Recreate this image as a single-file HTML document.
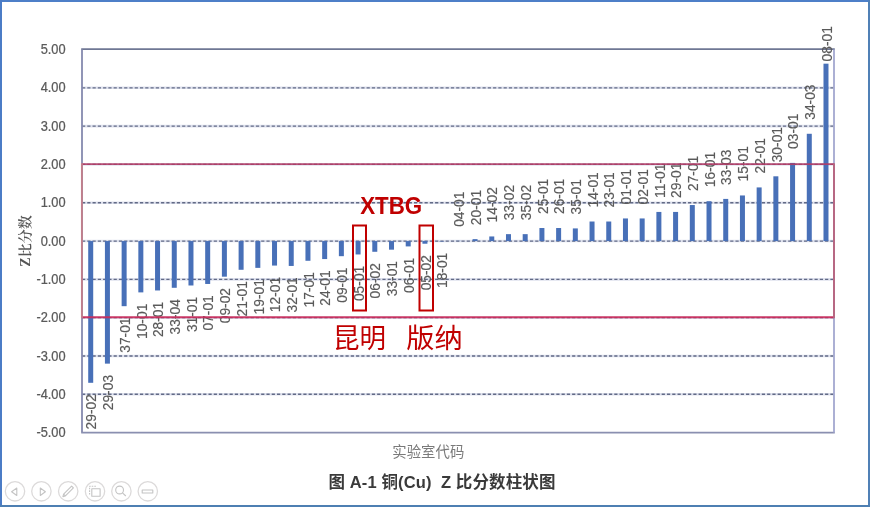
<!DOCTYPE html>
<html><head><meta charset="utf-8"><title>Z比分数柱状图</title>
<style>
html,body{margin:0;padding:0;background:#fff;}
body{width:870px;height:507px;overflow:hidden;}
svg{display:block;will-change:transform;}
text{font-family:"Liberation Sans","Noto Sans CJK SC",sans-serif;}
</style></head><body>
<svg width="870" height="507" viewBox="0 0 870 507">
<rect x="0" y="0" width="870" height="507" fill="#ffffff"/>

<g stroke="#dfe2ee" stroke-width="2.6" fill="none">
<line x1="82.0" y1="394.29" x2="834.0" y2="394.29"/>
<line x1="82.0" y1="355.98" x2="834.0" y2="355.98"/>
<line x1="82.0" y1="317.67" x2="834.0" y2="317.67"/>
<line x1="82.0" y1="279.36" x2="834.0" y2="279.36"/>
<line x1="82.0" y1="241.05" x2="834.0" y2="241.05"/>
<line x1="82.0" y1="202.74" x2="834.0" y2="202.74"/>
<line x1="82.0" y1="164.43" x2="834.0" y2="164.43"/>
<line x1="82.0" y1="126.12" x2="834.0" y2="126.12"/>
<line x1="82.0" y1="87.81" x2="834.0" y2="87.81"/>
</g>
<g stroke="#626a86" stroke-width="1.35" stroke-dasharray="3.2 2.07" fill="none">
<line x1="82.0" y1="394.29" x2="834.0" y2="394.29"/>
<line x1="82.0" y1="355.98" x2="834.0" y2="355.98"/>
<line x1="82.0" y1="317.67" x2="834.0" y2="317.67"/>
<line x1="82.0" y1="279.36" x2="834.0" y2="279.36"/>
<line x1="82.0" y1="241.05" x2="834.0" y2="241.05"/>
<line x1="82.0" y1="202.74" x2="834.0" y2="202.74"/>
<line x1="82.0" y1="164.43" x2="834.0" y2="164.43"/>
<line x1="82.0" y1="126.12" x2="834.0" y2="126.12"/>
<line x1="82.0" y1="87.81" x2="834.0" y2="87.81"/>
</g>
<line x1="81.2" y1="49.2" x2="834.8" y2="49.2" stroke="#6f7794" stroke-width="1.8"/>
<line x1="82.0" y1="49.5" x2="82.0" y2="432.6" stroke="#858aae" stroke-width="1.8"/>
<line x1="81.2" y1="432.6" x2="834.8" y2="432.6" stroke="#8a8fb0" stroke-width="1.8"/>
<line x1="834.0" y1="49.5" x2="834.0" y2="432.6" stroke="#a3a8d0" stroke-width="1.8"/>
<g fill="#4870b8">
<rect x="88.21" y="241.05" width="5.0" height="141.75"/>
<rect x="104.92" y="241.05" width="5.0" height="122.59"/>
<rect x="121.63" y="241.05" width="5.0" height="65.13"/>
<rect x="138.34" y="241.05" width="5.0" height="51.34"/>
<rect x="155.05" y="241.05" width="5.0" height="49.42"/>
<rect x="171.76" y="241.05" width="5.0" height="46.74"/>
<rect x="188.47" y="241.05" width="5.0" height="44.44"/>
<rect x="205.18" y="241.05" width="5.0" height="42.91"/>
<rect x="221.89" y="241.05" width="5.0" height="35.63"/>
<rect x="238.61" y="241.05" width="5.0" height="28.73"/>
<rect x="255.32" y="241.05" width="5.0" height="26.82"/>
<rect x="272.03" y="241.05" width="5.0" height="24.52"/>
<rect x="288.74" y="241.05" width="5.0" height="24.90"/>
<rect x="305.45" y="241.05" width="5.0" height="19.73"/>
<rect x="322.16" y="241.05" width="5.0" height="18.01"/>
<rect x="338.87" y="241.05" width="5.0" height="15.13"/>
<rect x="355.58" y="241.05" width="5.0" height="13.41"/>
<rect x="372.29" y="241.05" width="5.0" height="10.73"/>
<rect x="389.01" y="241.05" width="5.0" height="8.62"/>
<rect x="405.72" y="241.05" width="5.0" height="5.36"/>
<rect x="422.43" y="241.05" width="5.0" height="2.68"/>
<rect x="439.14" y="241.05" width="5.0" height="0.38"/>
<rect x="455.85" y="240.86" width="5.0" height="0.19"/>
<rect x="472.56" y="239.13" width="5.0" height="1.92"/>
<rect x="489.27" y="236.45" width="5.0" height="4.60"/>
<rect x="505.98" y="234.15" width="5.0" height="6.90"/>
<rect x="522.69" y="234.15" width="5.0" height="6.90"/>
<rect x="539.41" y="228.02" width="5.0" height="13.03"/>
<rect x="556.12" y="228.02" width="5.0" height="13.03"/>
<rect x="572.83" y="228.41" width="5.0" height="12.64"/>
<rect x="589.54" y="221.51" width="5.0" height="19.54"/>
<rect x="606.25" y="221.51" width="5.0" height="19.54"/>
<rect x="622.96" y="218.45" width="5.0" height="22.60"/>
<rect x="639.67" y="218.45" width="5.0" height="22.60"/>
<rect x="656.38" y="211.93" width="5.0" height="29.12"/>
<rect x="673.09" y="211.93" width="5.0" height="29.12"/>
<rect x="689.81" y="205.04" width="5.0" height="36.01"/>
<rect x="706.52" y="201.21" width="5.0" height="39.84"/>
<rect x="723.23" y="198.91" width="5.0" height="42.14"/>
<rect x="739.94" y="195.46" width="5.0" height="45.59"/>
<rect x="756.65" y="187.42" width="5.0" height="53.63"/>
<rect x="773.36" y="176.31" width="5.0" height="64.74"/>
<rect x="790.07" y="162.90" width="5.0" height="78.15"/>
<rect x="806.78" y="133.78" width="5.0" height="107.27"/>
<rect x="823.49" y="63.67" width="5.0" height="177.38"/>
</g>
<g fill="#5a5a5a" stroke="#5a5a5a" stroke-width="0.25" font-size="13.8" text-anchor="end">
<text transform="translate(65.6,54.10) scale(0.93,1)">5.00</text>
<text transform="translate(65.6,92.41) scale(0.93,1)">4.00</text>
<text transform="translate(65.6,130.72) scale(0.93,1)">3.00</text>
<text transform="translate(65.6,169.03) scale(0.93,1)">2.00</text>
<text transform="translate(65.6,207.34) scale(0.93,1)">1.00</text>
<text transform="translate(65.6,245.65) scale(0.93,1)">0.00</text>
<text transform="translate(65.6,283.96) scale(0.93,1)">-1.00</text>
<text transform="translate(65.6,322.27) scale(0.93,1)">-2.00</text>
<text transform="translate(65.6,360.58) scale(0.93,1)">-3.00</text>
<text transform="translate(65.6,398.89) scale(0.93,1)">-4.00</text>
<text transform="translate(65.6,437.20) scale(0.93,1)">-5.00</text>
</g>
<g fill="#5a5a5a" stroke="#5a5a5a" stroke-width="0.15" font-size="13.8">
<text transform="translate(96.41,394.10) rotate(-90)" text-anchor="end">29-02</text>
<text transform="translate(113.12,374.94) rotate(-90)" text-anchor="end">29-03</text>
<text transform="translate(129.83,317.48) rotate(-90)" text-anchor="end">37-01</text>
<text transform="translate(146.54,303.69) rotate(-90)" text-anchor="end">10-01</text>
<text transform="translate(163.25,301.77) rotate(-90)" text-anchor="end">28-01</text>
<text transform="translate(179.96,299.09) rotate(-90)" text-anchor="end">33-04</text>
<text transform="translate(196.67,296.79) rotate(-90)" text-anchor="end">31-01</text>
<text transform="translate(213.38,295.26) rotate(-90)" text-anchor="end">07-01</text>
<text transform="translate(230.09,287.98) rotate(-90)" text-anchor="end">09-02</text>
<text transform="translate(246.81,281.08) rotate(-90)" text-anchor="end">21-01</text>
<text transform="translate(263.52,279.17) rotate(-90)" text-anchor="end">19-01</text>
<text transform="translate(280.23,276.87) rotate(-90)" text-anchor="end">12-01</text>
<text transform="translate(296.94,277.25) rotate(-90)" text-anchor="end">32-01</text>
<text transform="translate(313.65,272.08) rotate(-90)" text-anchor="end">17-01</text>
<text transform="translate(330.36,270.36) rotate(-90)" text-anchor="end">24-01</text>
<text transform="translate(347.07,267.48) rotate(-90)" text-anchor="end">09-01</text>
<text transform="translate(363.78,265.76) rotate(-90)" text-anchor="end">05-01</text>
<text transform="translate(380.49,263.08) rotate(-90)" text-anchor="end">06-02</text>
<text transform="translate(397.21,260.97) rotate(-90)" text-anchor="end">33-01</text>
<text transform="translate(413.92,257.71) rotate(-90)" text-anchor="end">06-01</text>
<text transform="translate(430.63,255.03) rotate(-90)" text-anchor="end">05-02</text>
<text transform="translate(447.34,252.73) rotate(-90)" text-anchor="end">18-01</text>
<text transform="translate(464.05,226.86) rotate(-90)">04-01</text>
<text transform="translate(480.76,225.13) rotate(-90)">20-01</text>
<text transform="translate(497.47,222.45) rotate(-90)">14-02</text>
<text transform="translate(514.18,220.15) rotate(-90)">33-02</text>
<text transform="translate(530.89,220.15) rotate(-90)">35-02</text>
<text transform="translate(547.61,214.02) rotate(-90)">25-01</text>
<text transform="translate(564.32,214.02) rotate(-90)">26-01</text>
<text transform="translate(581.03,214.41) rotate(-90)">35-01</text>
<text transform="translate(597.74,207.51) rotate(-90)">14-01</text>
<text transform="translate(614.45,207.51) rotate(-90)">23-01</text>
<text transform="translate(631.16,204.45) rotate(-90)">01-01</text>
<text transform="translate(647.87,204.45) rotate(-90)">02-01</text>
<text transform="translate(664.58,197.93) rotate(-90)">11-01</text>
<text transform="translate(681.29,197.93) rotate(-90)">29-01</text>
<text transform="translate(698.01,191.04) rotate(-90)">27-01</text>
<text transform="translate(714.72,187.21) rotate(-90)">16-01</text>
<text transform="translate(731.43,184.91) rotate(-90)">33-03</text>
<text transform="translate(748.14,181.46) rotate(-90)">15-01</text>
<text transform="translate(764.85,173.42) rotate(-90)">22-01</text>
<text transform="translate(781.56,162.31) rotate(-90)">30-01</text>
<text transform="translate(798.27,148.90) rotate(-90)">03-01</text>
<text transform="translate(814.98,119.78) rotate(-90)">34-03</text>
<text transform="translate(831.69,61.40) rotate(-90)">08-01</text>
</g>
<line x1="82" y1="164.1" x2="834" y2="164.1" stroke="#b43a64" stroke-opacity="0.88" stroke-width="1.9"/>
<line x1="82" y1="317.2" x2="834" y2="317.2" stroke="#cc2a5a" stroke-opacity="0.9" stroke-width="2"/>
<line x1="81.9" y1="163.2" x2="81.9" y2="318.2" stroke="#c27f8c" stroke-width="1.9"/>
<line x1="834" y1="163.2" x2="834" y2="318.2" stroke="#b8657f" stroke-width="1.9"/>
<g fill="none" stroke="#c00000" stroke-width="2">
<rect x="353" y="225.5" width="13" height="85"/>
<rect x="419.5" y="225.5" width="13.5" height="85"/>
</g>
<text x="360.2" y="213.9" fill="#c00000" font-size="23" font-weight="bold" textLength="62" lengthAdjust="spacingAndGlyphs">XTBG</text>
<text x="333" y="348" fill="#c00000" font-size="27" textLength="53" lengthAdjust="spacingAndGlyphs">昆明</text>
<text x="406.3" y="348" fill="#c00000" font-size="27" textLength="56.5" lengthAdjust="spacingAndGlyphs">版纳</text>
<text transform="translate(29.8,241) rotate(-90)" fill="#555555" font-size="14" text-anchor="middle" style="font-family:'Liberation Serif','Noto Serif CJK SC',serif;font-weight:600">Z比分数</text>
<text x="428.3" y="456.6" fill="#7a7a7a" font-size="14.4" text-anchor="middle">实验室代码</text>
<text x="442" y="487.7" fill="#3a3a3a" font-size="16.5" font-weight="bold" text-anchor="middle" letter-spacing="0.12" xml:space="preserve">图 A-1 铜(Cu)  Z 比分数柱状图</text>
<g fill="none" stroke="#dcdada" stroke-width="1.3">
<circle cx="15.0" cy="491.3" r="9.7"/>
<circle cx="41.4" cy="491.3" r="9.7"/>
<circle cx="68.2" cy="491.3" r="9.7"/>
<circle cx="95.0" cy="491.3" r="9.7"/>
<circle cx="121.4" cy="491.3" r="9.7"/>
<circle cx="147.8" cy="491.3" r="9.7"/>
</g>
<g fill="none" stroke="#c4c4c4" stroke-width="1.1" stroke-linejoin="round">
<path d="M16.8 488 L11.6 491.7 L16.8 495.5 Z"/>
<path d="M40.3 488 L45.4 491.7 L40.3 495.5 Z"/>
<path d="M62.9 496.7 L63.6 494.1 L71.6 486.1 L73.4 487.9 L65.4 495.9 Z M63.6 494.1 L65.4 495.9"/>
<rect x="91.8" y="488.7" width="8.3" height="7.6"/>
<path d="M89.6 494.5 V486.2 H96.5" stroke-dasharray="1.6 1"/>
<circle cx="119.6" cy="490" r="3.9"/><path d="M122.5 492.9 L125.8 496"/>
<rect x="142.2" y="490" width="10.6" height="3"/>
</g>
<rect x="0" y="0" width="870" height="2" fill="#4d7fc8"/>
<rect x="0" y="0" width="2" height="507" fill="#4b7cc6"/>
<rect x="868" y="0" width="2" height="507" fill="#5080b6"/>
<rect x="0" y="505" width="870" height="2" fill="#4e7fb2"/>
</svg>
</body></html>
